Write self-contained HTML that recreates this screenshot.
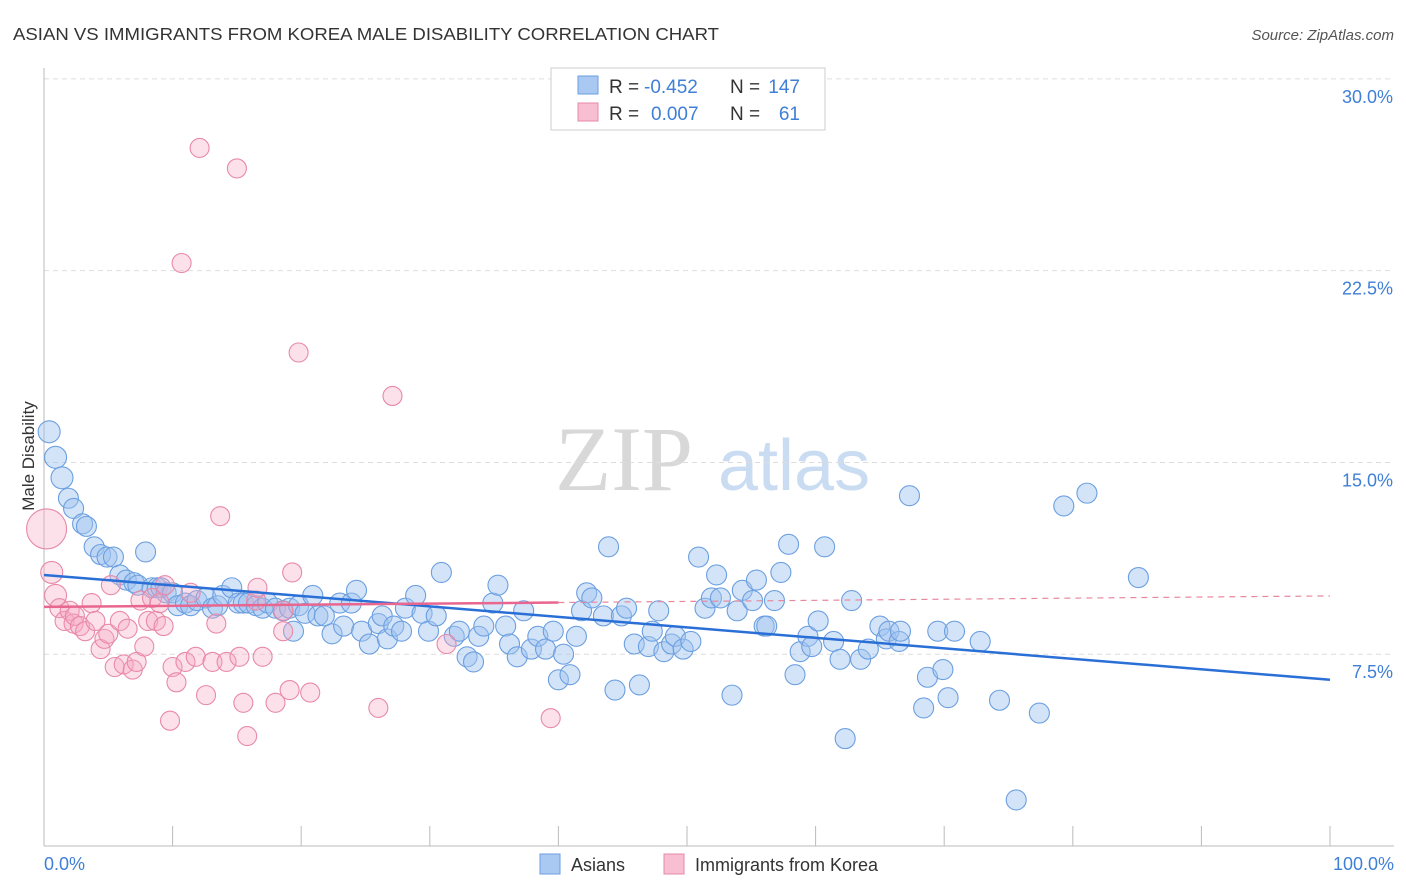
<!DOCTYPE html>
<html><head><meta charset="utf-8"><style>
body{margin:0;background:#fff;font-family:"Liberation Sans",sans-serif}
svg{display:block}
</style></head><body>
<svg id="chart" width="1406" height="892">
<text x="13" y="40" font-size="17.5" fill="#333" textLength="706" lengthAdjust="spacingAndGlyphs">ASIAN VS IMMIGRANTS FROM KOREA MALE DISABILITY CORRELATION CHART</text>
<text x="1394" y="40" font-size="15" fill="#555" font-style="italic" text-anchor="end">Source: ZipAtlas.com</text>
<g>
<text x="555" y="490" font-size="92" font-family="Liberation Serif,serif" fill="#d8d8d8">ZIP</text>
<text x="718" y="490" font-size="72" fill="#c9dcf2">atlas</text>
</g>
<g id="grid"></g>
<g id="axes"></g>
<g id="pts"></g>
<g id="lines"></g>
<text transform="translate(34,456) rotate(-90)" font-size="17" fill="#333" text-anchor="middle">Male Disability</text>
<text x="44" y="870" font-size="18" fill="#3f7fd6">0.0%</text>
<text x="1394" y="870" font-size="18" fill="#3f7fd6" text-anchor="end">100.0%</text>
<g font-size="19">
<rect x="551" y="68" width="274" height="62" fill="#fff" stroke="#ccc"/>
<rect x="578" y="76" width="20" height="18" fill="#a9c9f2" stroke="#6b9fe0"/>
<rect x="578" y="103" width="20" height="18" fill="#f7bfd1" stroke="#e889a8"/>
<text x="609" y="93" fill="#333">R =</text>
<text x="644" y="93" fill="#3f7fd6">-0.452</text>
<text x="730" y="93" fill="#333">N =</text>
<text x="800" y="93" fill="#3f7fd6" text-anchor="end">147</text>
<text x="609" y="120" fill="#333">R =</text>
<text x="651" y="120" fill="#3f7fd6">0.007</text>
<text x="730" y="120" fill="#333">N =</text>
<text x="800" y="120" fill="#3f7fd6" text-anchor="end">61</text>
</g>
<g>
<rect x="540" y="854" width="20" height="20" fill="#a9c9f2" stroke="#6b9fe0"/>
<text x="571" y="871" font-size="18" fill="#333">Asians</text>
<rect x="664" y="854" width="20" height="20" fill="#f7bfd1" stroke="#e889a8"/>
<text x="695" y="871" font-size="18" fill="#333">Immigrants from Korea</text>
</g>
</svg>
<script>
const yTicks=[7.5,15,22.5,30];
const yTickLabels=["7.5%","15.0%","22.5%","30.0%"];
const xTicks=[0,10,20,30,40,50,60,70,80,90,100];
const asianX=[.4,.9,1.4,1.9,2.3,3.0,3.3,3.9,4.4,4.9,5.4,5.9,6.4,7.0,7.3,7.9,8.4,8.8,9.1,9.5,10.0,10.4,11.0,11.4,11.9,12.6,13.1,13.5,13.9,14.6,15.1,15.5,15.9,16.5,17.0,17.4,18.0,18.6,19.1,19.4,19.8,20.3,20.9,21.3,21.8,22.4,23.0,23.3,23.9,24.3,24.7,25.3,26.0,26.3,26.7,27.2,27.8,28.1,28.9,29.4,29.9,30.5,30.9,31.9,32.3,32.9,33.4,33.8,34.2,34.9,35.3,35.9,36.2,36.8,37.3,37.9,38.4,39.0,39.6,40.0,40.4,40.9,41.4,41.8,42.2,42.6,43.5,43.9,44.4,44.9,45.3,45.9,46.3,47.0,47.3,47.8,48.2,48.8,49.1,49.7,50.3,50.9,51.4,51.9,52.3,52.6,53.5,53.9,54.3,55.1,55.4,56.0,56.2,56.8,57.3,57.9,58.4,58.8,59.4,59.7,60.2,60.7,61.4,61.9,62.3,62.8,63.5,64.1,65.0,65.5,65.7,66.5,66.6,67.3,68.7,68.4,69.5,69.9,70.3,70.8,72.8,74.3,75.6,77.4,79.3,81.1,85.1];
const asianY=[16.2,15.2,14.4,13.6,13.2,12.6,12.5,11.7,11.4,11.3,11.3,10.6,10.4,10.3,10.2,11.5,10.1,10.1,10.1,9.9,9.9,9.4,9.5,9.4,9.6,9.7,9.3,9.4,9.8,10.1,9.5,9.5,9.5,9.4,9.3,9.5,9.3,9.2,9.3,8.4,9.4,9.1,9.8,9.0,9.0,8.3,9.5,8.6,9.5,10.0,8.4,7.9,8.7,9.0,8.1,8.6,8.4,9.3,9.8,9.1,8.4,9.0,10.7,8.2,8.4,7.4,7.2,8.2,8.6,9.5,10.2,8.6,7.9,7.4,9.2,7.7,8.2,7.7,8.4,6.5,7.5,6.7,8.2,9.2,9.9,9.7,9.0,11.7,6.1,9.0,9.3,7.9,6.3,7.8,8.4,9.2,7.6,7.9,8.2,7.7,8.0,11.3,9.3,9.7,10.6,9.7,5.9,9.2,10.0,9.6,10.4,8.6,8.6,9.6,10.7,11.8,6.7,7.6,8.2,7.8,8.8,11.7,8.0,7.3,4.2,9.6,7.3,7.7,8.6,8.1,8.4,8.0,8.4,13.7,6.6,5.4,8.4,6.9,5.8,8.4,8.0,5.7,1.8,5.2,13.3,13.8,10.5];
const koreaX=[.2,.6,.9,1.2,1.6,2.0,2.3,2.4,2.8,3.2,3.7,4.0,4.4,4.7,5.0,5.2,5.5,5.9,6.2,6.5,6.9,7.2,7.5,7.8,8.1,8.4,8.7,9.0,9.3,9.4,9.8,10.0,10.3,10.7,11.0,11.4,11.8,12.1,12.6,13.1,13.4,13.7,14.2,15.0,15.2,15.5,15.8,16.5,17.0,18.0,18.6,19.1,19.3,19.8,20.7,26.0,27.1,31.3,39.4,16.6,18.6];
const koreaY=[12.4,10.7,9.8,9.3,8.8,9.2,8.7,9.0,8.6,8.4,9.5,8.8,7.7,8.1,8.3,10.2,7.0,8.8,7.1,8.5,6.9,7.2,9.6,7.8,8.8,9.7,8.8,9.5,8.6,10.2,4.9,7.0,6.4,22.8,7.2,9.9,7.4,27.3,5.9,7.2,8.7,12.9,7.2,26.5,7.4,5.6,4.3,9.6,7.4,5.6,8.4,6.1,10.7,19.3,6.0,5.4,17.6,7.9,5.0,10.1,9.2];
const asianTrend=[10.6,6.5];
const koreaTrend=[9.35,9.78];
const koreaSolidEnd=40;

const NS="http://www.w3.org/2000/svg";
const X=v=>44+v*12.86;
const Y=v=>846-v*25.57;
function mk(tag,attrs,parent){const e=document.createElementNS(NS,tag);for(const k in attrs)e.setAttribute(k,attrs[k]);parent.appendChild(e);return e;}
const grid=document.getElementById('grid'),axes=document.getElementById('axes'),pts=document.getElementById('pts'),lines=document.getElementById('lines');
yTicks.forEach((t,i)=>{
 const l=mk('line',{x1:44,x2:1394,y1:Y(t),y2:Y(t),stroke:'#ddd','stroke-dasharray':'5,4'},grid);
 
 
 const tx=mk('text',{x:1393,y:Y(t)+24,'font-size':18,fill:'#3f7fd6','text-anchor':'end'},grid);
 tx.textContent=yTickLabels[i];
 
 
});
const ya=mk('line',{x1:44,x2:44,y1:68,y2:846,stroke:'#bbb'},axes);


const xa=mk('line',{x1:44,x2:1394,y1:846,y2:846,stroke:'#bbb'},axes);


xTicks.forEach(t=>{
 const k=mk('line',{x1:X(t),x2:X(t),y1:826,y2:846,stroke:'#bbb'},axes);
 
 
});
asianX.forEach((x,i)=>{
 const c=mk('circle',{cx:X(x),cy:Y(asianY[i]),r:i<3?11:10,fill:'rgba(160,196,240,0.45)',stroke:'#6b9fe0','stroke-width':1.1},pts);
 
 
});
koreaX.forEach((x,i)=>{
 const c=mk('circle',{cx:X(x),cy:Y(koreaY[i]),r:i==0?20:(i<3?11:9.5),fill:'rgba(245,170,195,0.35)',stroke:'#e889a8','stroke-width':1.1},pts);
 
 
});
const bl=mk('line',{x1:X(0),x2:X(100),y1:Y(asianTrend[0]),y2:Y(asianTrend[1]),stroke:'#2a6fd6','stroke-width':2.5},lines);


const kAt=v=>koreaTrend[0]+(koreaTrend[1]-koreaTrend[0])*v/100;
const pl=mk('line',{x1:X(0),x2:X(koreaSolidEnd),y1:Y(kAt(0)),y2:Y(kAt(koreaSolidEnd)),stroke:'#e8668f','stroke-width':2.5},lines);


const pd=mk('line',{x1:X(koreaSolidEnd),x2:X(100),y1:Y(kAt(koreaSolidEnd)),y2:Y(kAt(100)),stroke:'#e8889f','stroke-width':1.2,'stroke-dasharray':'6,5'},lines);


</script>
</body></html>
